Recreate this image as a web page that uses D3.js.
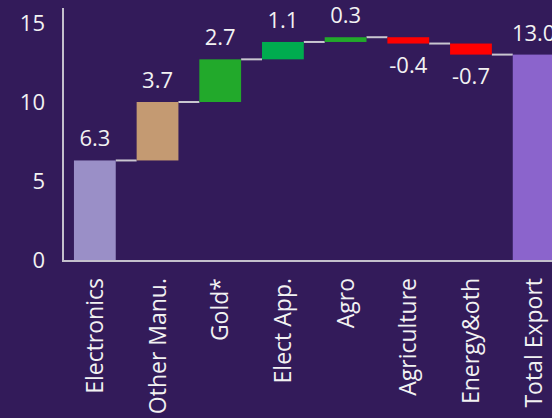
<!DOCTYPE html>
<html lang="en">
<head>
<meta charset="utf-8">
<style type="text/css">
    html, body { margin: 0; padding: 0; background: #331b5a; }
    svg { display: block; }
    .lbl { font-family: "Open Sans", "Noto Sans", sans-serif; fill: #f2f2f2; }
</style>
</head>
<body>
<script src="https://cdn.jsdelivr.net/npm/d3@7"></script>
<script type="text/javascript">
    // waterfall data
    var categories = ["Electronics", "Other Manu.", "Gold*", "Elect App.", "Agro", "Agriculture", "Energy&oth", "Total Export"];
    var changes = [6.3, 3.7, 2.7, 1.1, 0.3, -0.4, -0.7, 13.0];
    var isTotal = [false, false, false, false, false, false, false, true];
    var barColors = ["#9a8fc7", "#c49a72", "#22a92b", "#00ac4f", "#22a92b", "#ff0000", "#ff0000", "#8b64cc"];
    var yTicks = [0, 5, 10, 15];

    var width = 552, height = 418;

    // build running totals
    var rows = [], run = 0;
    categories.forEach(function (c, i) {
        var start = isTotal[i] ? 0 : run;
        var end = isTotal[i] ? changes[i] : run + changes[i];
        if (!isTotal[i]) run = end;
        rows.push({name: c, value: changes[i], start: start, end: end, color: barColors[i]});
    });

    var svg = d3.select("body").append("svg")
        .attr("width", width)
        .attr("height", height);

    svg.append("rect")
        .attr("width", width).attr("height", height)
        .attr("fill", "#331b5a");

    var x = d3.scaleBand()
        .domain(categories)
        .range([63.5, 565])
        .paddingInner(1 / 3)
        .paddingOuter(1 / 6);

    var y = d3.scaleLinear()
        .domain([0, 15])
        .range([260, 23]);

    // connectors
    svg.selectAll(".conn")
        .data(rows.slice(0, rows.length - 1))
        .enter().append("line")
        .attr("class", "conn")
        .attr("x1", function (d) { return x(d.name) + x.bandwidth(); })
        .attr("x2", function (d, i) { return x(categories[i + 1]); })
        .attr("y1", function (d) { return y(d.end); })
        .attr("y2", function (d) { return y(d.end); })
        .attr("stroke", "#c9c6d0")
        .attr("stroke-width", 2);

    // bars
    svg.selectAll(".bar")
        .data(rows)
        .enter().append("rect")
        .attr("class", "bar")
        .attr("x", function (d) { return x(d.name); })
        .attr("width", x.bandwidth())
        .attr("y", function (d) { return y(Math.max(d.start, d.end)); })
        .attr("height", function (d) { return Math.abs(y(d.start) - y(d.end)); })
        .attr("fill", function (d) { return d.color; });

    // value labels
    svg.selectAll(".val")
        .data(rows)
        .enter().append("text")
        .attr("class", "lbl val")
        .attr("font-size", 22)
        .attr("text-anchor", "middle")
        .attr("x", function (d) { return x(d.name) + x.bandwidth() / 2; })
        .attr("y", function (d) {
            return d.value < 0 ? y(Math.min(d.start, d.end)) + 29 : y(Math.max(d.start, d.end)) - 14;
        })
        .text(function (d) { return d.value.toFixed(1); });

    // y axis
    var yAxis = svg.append("g")
        .attr("transform", "translate(63,0)")
        .call(d3.axisLeft(y).tickValues(yTicks).tickSize(0).tickPadding(18));
    yAxis.select(".domain").remove();
    yAxis.selectAll("text")
        .attr("class", "lbl")
        .attr("font-size", 22)
        .attr("fill", "#f2f2f2");

    svg.append("line")
        .attr("x1", 63).attr("x2", 63)
        .attr("y1", 8).attr("y2", 261)
        .attr("stroke", "#c4c0cc").attr("stroke-width", 2);

    // x axis
    var xAxis = svg.append("g")
        .attr("transform", "translate(0,261)")
        .call(d3.axisBottom(x).tickSize(0));
    xAxis.select(".domain").remove();
    xAxis.selectAll("text")
        .attr("class", "lbl")
        .attr("font-size", 23)
        .attr("fill", "#f2f2f2")
        .attr("text-anchor", "end")
        .attr("dy", "0.35em")
        .attr("transform", "translate(0,17) rotate(-90)")
        .attr("x", 0).attr("y", 0);

    svg.append("line")
        .attr("x1", 62).attr("x2", width)
        .attr("y1", 261).attr("y2", 261)
        .attr("stroke", "#c4c0cc").attr("stroke-width", 2);
</script>
</body>
</html>
